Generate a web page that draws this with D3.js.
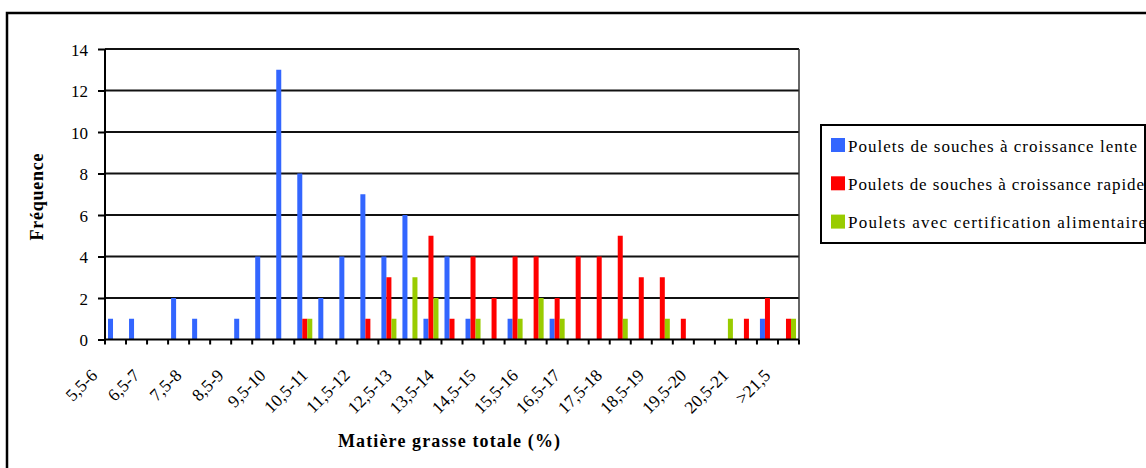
<!DOCTYPE html>
<html>
<head>
<meta charset="utf-8">
<script src="https://cdn.jsdelivr.net/npm/d3@7"></script>
<style>
  html, body { margin: 0; padding: 0; background: #fff; }
  svg { display: block; }
</style>
</head>
<body>
<svg id="chart" width="1146" height="468"></svg>
<script>
// Fat-content classes (% total fat), one per 0.5 point step
const categories = [
  "5,5-6", "6-6,5", "6,5-7", "7-7,5", "7,5-8", "8-8,5", "8,5-9", "9-9,5",
  "9,5-10", "10-10,5", "10,5-11", "11-11,5", "11,5-12", "12-12,5", "12,5-13", "13-13,5",
  "13,5-14", "14-14,5", "14,5-15", "15-15,5", "15,5-16", "16-16,5", "16,5-17", "17-17,5",
  "17,5-18", "18-18,5", "18,5-19", "19-19,5", "19,5-20", "20-20,5", "20,5-21", "21-21,5",
  ">21,5"
];

// Frequencies per class for each type of chicken
const slowGrowth = [1, 1, 0, 2, 1, 0, 1, 4, 13, 8, 2, 4, 7, 4, 6, 1, 4, 1, 0, 1, 0, 1, 0, 0, 0, 0, 0, 0, 0, 0, 0, 1, 0];
const fastGrowth = [0, 0, 0, 0, 0, 0, 0, 0, 0, 1, 0, 0, 1, 3, 0, 5, 1, 4, 2, 4, 4, 2, 4, 4, 5, 3, 3, 1, 0, 0, 1, 2, 1];
const certifiedFeed = [0, 0, 0, 0, 0, 0, 0, 0, 0, 1, 0, 0, 0, 1, 3, 2, 0, 1, 0, 1, 2, 1, 0, 0, 1, 0, 1, 0, 0, 1, 0, 0, 1];

const seriesNames = [
  "Poulets de souches à croissance lente",
  "Poulets de souches à croissance rapide",
  "Poulets avec certification alimentaire"
];
const seriesColors = ["#3366FF", "#FF0000", "#99CC00"];
const yTicks = [0, 2, 4, 6, 8, 10, 12, 14];

const FONT = "'Liberation Serif', 'Times New Roman', serif";

const seriesValues = [slowGrowth, fastGrowth, certifiedFeed];
const rows = categories.map((c, i) => ({
  cat: c,
  values: seriesValues.map((vals, s) => ({ s, v: vals[i] }))
}));

const svg = d3.select("#chart");
const plot = { left: 105, top: 49, right: 799, bottom: 339.5 };

// Outer chart frame
svg.append("rect")
  .attr("x", 7).attr("y", 13)
  .attr("width", 1160).attr("height", 480)
  .attr("fill", "none").attr("stroke", "#000").attr("stroke-width", 2.5);

const x0 = d3.scaleBand().domain(categories).range([plot.left, plot.right]).padding(0);
const bw = x0.bandwidth();
const x1 = d3.scaleBand().domain(d3.range(seriesNames.length))
  .range([bw / 7, bw - bw / 7]).padding(0);
const y = d3.scaleLinear().domain([0, 14]).range([plot.bottom, plot.top]);

// Horizontal gridlines
svg.append("g").selectAll("line")
  .data(yTicks.filter(t => t > 0))
  .join("line")
  .attr("x1", plot.left).attr("x2", plot.right)
  .attr("y1", d => y(d)).attr("y2", d => y(d))
  .attr("stroke", "#111").attr("stroke-width", 2);

// Right border of plot area
svg.append("line")
  .attr("x1", plot.right).attr("x2", plot.right)
  .attr("y1", plot.top).attr("y2", plot.bottom)
  .attr("stroke", "#333").attr("stroke-width", 1.5);

// Bars
svg.append("g").selectAll("g")
  .data(rows)
  .join("g")
  .attr("transform", d => `translate(${x0(d.cat)},0)`)
  .selectAll("rect")
  .data(d => d.values.filter(e => e.v > 0))
  .join("rect")
  .attr("x", e => x1(e.s))
  .attr("width", x1.bandwidth())
  .attr("y", e => y(e.v))
  .attr("height", e => y(0) - y(e.v))
  .attr("fill", e => seriesColors[e.s]);

// Y axis
const yAxis = svg.append("g").attr("transform", `translate(${plot.left},0)`)
  .call(d3.axisLeft(y).tickValues(yTicks).tickSize(7).tickPadding(10).tickFormat(d3.format("d")));
yAxis.select(".domain").attr("stroke", "#000").attr("stroke-width", 2).attr("d", `M0,${plot.top}V${plot.bottom}`);
yAxis.selectAll(".tick line").attr("stroke", "#000").attr("stroke-width", 2);
yAxis.selectAll(".tick text")
  .attr("fill", "#000")
  .attr("dy", "0.36em")
  .style("font-family", FONT).style("font-size", "17px");

// X axis: ticks at category boundaries, labels on every other class
const xg = svg.append("g");
xg.append("line")
  .attr("x1", plot.left).attr("x2", plot.right)
  .attr("y1", plot.bottom).attr("y2", plot.bottom)
  .attr("stroke", "#000").attr("stroke-width", 2);
xg.selectAll(".xt")
  .data(categories.concat(["end"]))
  .join("line")
  .attr("class", "xt")
  .attr("x1", (d, i) => plot.left + i * bw).attr("x2", (d, i) => plot.left + i * bw)
  .attr("y1", plot.bottom).attr("y2", plot.bottom + 5)
  .attr("stroke", "#000").attr("stroke-width", 2);
const xLabels = xg.selectAll(".xl")
  .data(categories.filter((c, i) => i % 2 === 0))
  .join("text")
  .attr("class", "xl")
  .attr("transform", "rotate(-45)")
  .attr("text-anchor", "end")
  .attr("fill", "#000")
  .style("font-family", FONT).style("font-size", "17.5px")
  .text(d => d);
// Hang each slanted label so its upper-right corner sits just left of the class centre
xLabels.each(function (d) {
  const box = this.getBoundingClientRect();
  const cx = x0(d) + bw / 2;
  const dx = cx - 14 - box.right;
  const dy = 365 - box.top;
  d3.select(this).attr("transform", `translate(${dx},${dy}) rotate(-45)`);
});

// Axis titles
svg.append("text")
  .attr("x", 449).attr("y", 447)
  .attr("text-anchor", "middle")
  .attr("textLength", 222).attr("lengthAdjust", "spacing")
  .style("font-family", FONT).style("font-size", "18px").style("font-weight", "bold")
  .text("Matière grasse totale (%)");

svg.append("text")
  .attr("transform", "translate(43,197) rotate(-90)")
  .attr("text-anchor", "middle")
  .attr("textLength", 87).attr("lengthAdjust", "spacing")
  .style("font-family", FONT).style("font-size", "18px").style("font-weight", "bold")
  .text("Fréquence");

// Legend
const legendWidths = [289, 296, 298];
const legend = svg.append("g");
legend.append("rect")
  .attr("x", 821).attr("y", 125).attr("width", 324).attr("height", 118)
  .attr("fill", "#fff").attr("stroke", "#000").attr("stroke-width", 2);
const items = legend.selectAll(".item")
  .data(seriesNames)
  .join("g")
  .attr("class", "item")
  .attr("transform", (d, i) => `translate(831,${138 + i * 38.3})`);
items.append("rect")
  .attr("width", 14).attr("height", 14)
  .attr("fill", (d, i) => seriesColors[i]);
items.append("text")
  .attr("x", 17).attr("y", 13.5)
  .attr("fill", "#000")
  .attr("textLength", (d, i) => legendWidths[i]).attr("lengthAdjust", "spacing")
  .style("font-family", FONT).style("font-size", "17px")
  .text(d => d);
</script>
</body>
</html>
